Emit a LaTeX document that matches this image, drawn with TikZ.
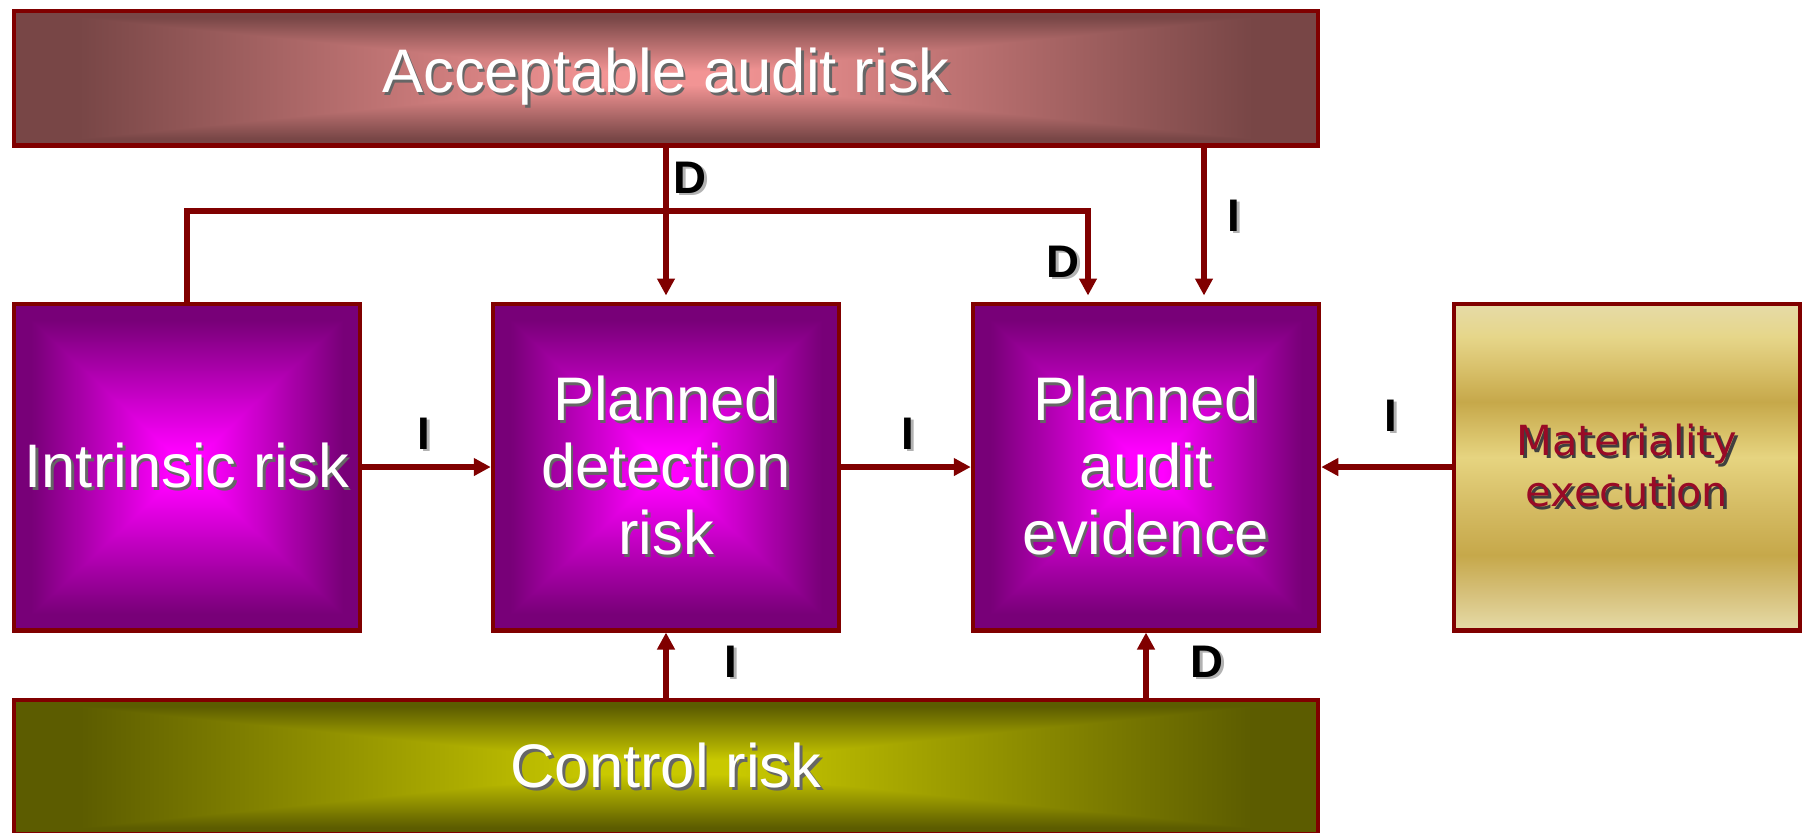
\documentclass[tikz,border=0pt]{standalone}
\usepackage{fontspec}
\setmainfont{Liberation Sans}
\newfontfamily\matfont{DejaVu Sans}
\usetikzlibrary{arrows, arrows.meta}

\definecolor{linered}{HTML}{800000}
\definecolor{matred}{HTML}{990A26}
\definecolor{goldA}{HTML}{E6DBA8}
\definecolor{goldB}{HTML}{D5BF78}
\definecolor{goldC}{HTML}{C6A84A}
\definecolor{goldD}{HTML}{D5BC64}
\definecolor{goldE}{HTML}{E6D480}
\definecolor{goldF}{HTML}{D8C06A}
\definecolor{goldG}{HTML}{E6D68A}

% rectangular gradient from the centre: name, centre rgb, edge-centre rgb
\newcommand{\rectgrad}[7]{%
  \pgfdeclarefunctionalshading{#1}{\pgfpoint{0bp}{0bp}}{\pgfpoint{100bp}{100bp}}{}{%
    50 sub abs 25 div exch 50 sub abs 25 div
    2 copy sub abs 3 1 roll add add 2 div
    0.1 sub 1.25 mul dup abs add 2 div
    dup 1 sub abs neg add 1 add 2 div
    dup #5 mul #2 add exch dup #6 mul #3 add exch #7 mul #4 add}}
\rectgrad{auditrisk}{0.95}{0.58}{0.58}{-0.48}{-0.305}{-0.305}
\rectgrad{purpleglow}{1}{0}{1}{-0.53}{0}{-0.53}
\rectgrad{ctrlrisk}{0.79}{0.79}{0}{-0.43}{-0.43}{0}
\pgfdeclareverticalshading{goldbar}{100bp}{color(0bp)=(goldA); color(25bp)=(goldA);
  color(31bp)=(goldB); color(36.5bp)=(goldC); color(44bp)=(goldD); color(51.5bp)=(goldE);
  color(60bp)=(goldC); color(65bp)=(goldF); color(70bp)=(goldG); color(75bp)=(goldA);
  color(100bp)=(goldA)}

% text with a drop shadow
\newcommand{\shd}[2][black!60]{\leavevmode\rlap{\hspace{0.25mm}\raisebox{-0.25mm}{\textcolor{#1}{#2}}}#2}

\tikzset{
  riskbar/.style={draw=linered, line width=0.45mm, inner sep=0pt, minimum width=130.4mm,
    minimum height=13.45mm, text=white, font=\fontsize{17.5pt}{19pt}\selectfont},
  planbox/.style={draw=linered, line width=0.45mm, inner sep=0pt, minimum width=34.6mm,
    minimum height=32.65mm, shading=purpleglow, text=white, align=center,
    font=\fontsize{17.5pt}{19pt}\selectfont},
  matbox/.style={planbox, shading=goldbar, text=matred,
    font=\matfont\fontsize{11.8pt}{14.4pt}\selectfont},
  tag/.style={inner sep=0pt, text=black, font=\bfseries\fontsize{13pt}{13pt}\selectfont},
  link/.style={draw=linered, line width=0.55mm, -{Triangle[length=1.7mm, width=1.7mm]}}
}

\begin{document}
\begin{tikzpicture}[x=0.1mm, y=-0.1mm]
\useasboundingbox (0,0) rectangle (1802,832);
%---------------------------------------------------
\node[riskbar, shading=auditrisk] (aar) at (666,78)  {\shd{Acceptable audit risk}};
\node[planbox] (ir)  at (187,467)  {\shd{Intrinsic risk}};
\node[planbox] (pdr) at (666,467)  {\shd{Planned}\\\shd{detection}\\\shd{risk}};
\node[planbox] (pae) at (1146,467) {\shd{Planned}\\\shd{audit}\\\shd{evidence}};
\node[matbox]  (mat) at (1627,467) {\shd[black!75]{Materiality}\\\shd[black!75]{execution}};
\node[riskbar, shading=ctrlrisk] (cr) at (666,767) {\shd{Control risk}};
%---------------------------------------------------
\draw[link, shorten >=0.6mm] (aar.south) -- (pdr.north);
\draw[link, shorten >=0.6mm] (ir.north) -- ++(0,-90.5) -| ([xshift=-5.8mm]pae.north);
\draw[link, shorten >=0.6mm] ([xshift=5.8mm]pae.north |- aar.south) -- ([xshift=5.8mm]pae.north);
\draw[link] (ir.east) -- (pdr.west);
\draw[link] (pdr.east) -- (pae.west);
\draw[link] (mat.west) -- (pae.east);
\draw[link] (pdr.south |- cr.north) -- (pdr.south);
\draw[link] (pae.south |- cr.north) -- (pae.south);
%---------------------------------------------------
\node[tag] (dtop)  at (690,179)  {\shd[black!30]{D}};
\node[tag] (dmid)  at (1063,263) {\shd[black!30]{D}};
\node[tag] (itop)  at (1234,217) {\shd[black!30]{I}};
\node[tag] (ileft) at (424,435)  {\shd[black!30]{I}};
\node[tag] (imid)  at (908,435)  {\shd[black!30]{I}};
\node[tag] (imat)  at (1391,417) {\shd[black!30]{I}};
\node[tag] (ibot)  at (731,663)  {\shd[black!30]{I}};
\node[tag] (dbot)  at (1207,663) {\shd[black!30]{D}};
\end{tikzpicture}
\end{document}
